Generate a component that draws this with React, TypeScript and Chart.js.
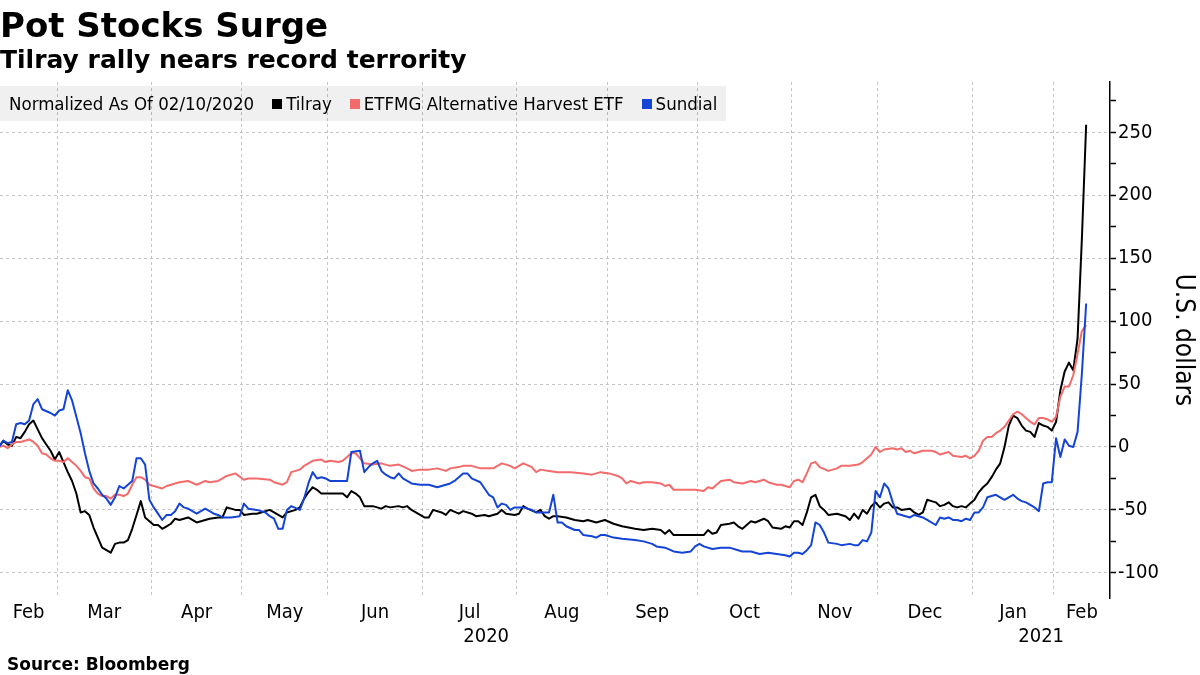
import React, { useEffect, useRef } from 'react';
import { Chart, registerables } from 'chart.js';

Chart.register(...registerables);

const COND = '"DejaVu Sans Condensed", "DejaVu Sans", sans-serif';
const BOLD = '"DejaVu Sans", sans-serif';
const GRID = '#c4c4c4';

// ---- texts ----
const titleText = 'Pot Stocks Surge';
const subtitleText = 'Tilray rally nears record terrority';
const legendNote = 'Normalized As Of 02/10/2020';
const sourceText = 'Source: Bloomberg';
const yAxisTitle = 'U.S. dollars';

// ---- series (x = trading-day index from 02/10/2020, y = normalized change) ----
const seriesNames = ['Tilray', 'ETFMG Alternative Harvest ETF', 'Sundial'];
const seriesColors = ['#000000', '#f36b6b', '#1444d6'];

const tilray: [number, number][] = [
  [0,0],[1,5],[2,2],[3,1],[4,8],[5,7],[6,12],[7,18],[8,21],[9,14],[10,7],[11,2],[12,-3],[13,-10],[14,-4],[15,-12],[16,-20],[17,-27],[18,-37],[19,-52],[20,-51],[21,-54],[22,-64],[23,-72],[24,-80],[25,-82],[26,-84],[27,-77],[28,-76],[29,-76],[30,-74],[31,-65],[32,-54],[33,-43],[34,-56],[35,-59],[36,-62],[37,-62],[38,-65],[39,-63],[40,-61],[41,-57],[42,-58],[44,-56],[46,-60],[48,-58],[49,-57],[51,-56],[52,-56],[53,-48],[54,-49],[55,-50],[56,-50],[57,-54],[59,-53],[60,-53],[61,-52],[63,-50],[64,-52],[65,-54],[66,-56],[67,-52],[69,-50],[70,-48],[71,-41],[72,-36],[73,-32],[74,-34],[75,-37],[77,-37],[79,-37],[80,-37],[81,-40],[82,-35],[83,-37],[84,-40],[85,-47],[87,-47],[89,-49],[90,-47],[91,-48],[93,-47],[94,-48],[95,-47],[96,-50],[98,-54],[99,-56],[100,-56],[101,-50],[103,-52],[104,-54],[105,-50],[107,-53],[108,-51],[110,-53],[111,-55],[113,-54],[114,-55],[116,-53],[117,-50],[118,-53],[120,-54],[121,-53],[122,-47],[123,-49],[125,-52],[126,-50],[127,-55],[128,-57],[129,-55],[130,-55],[132,-56],[134,-58],[136,-59],[137,-58],[139,-60],[141,-58],[143,-61],[145,-63],[148,-65],[150,-66],[152,-65],[154,-66],[155,-69],[156,-66],[157,-70],[159,-70],[162,-70],[164,-70],[165,-66],[166,-69],[167,-68],[168,-62],[170,-61],[171,-60],[172,-63],[173,-65],[175,-59],[176,-60],[178,-57],[179,-59],[180,-64],[182,-65],[183,-63],[184,-64],[185,-59],[186,-59],[187,-62],[188,-52],[189,-40],[190,-38],[191,-47],[192,-50],[193,-54],[195,-53],[196,-54],[197,-55],[198,-58],[199,-53],[200,-57],[201,-50],[202,-53],[203,-47],[204,-44],[205,-48],[206,-45],[207,-44],[208,-48],[209,-48],[210,-50],[212,-49],[213,-52],[214,-54],[215,-52],[216,-42],[217,-43],[218,-44],[219,-47],[220,-46],[221,-44],[222,-47],[223,-48],[224,-47],[225,-48],[226,-45],[227,-42],[228,-36],[229,-32],[230,-29],[231,-24],[232,-18],[233,-13],[234,0],[235,17],[236,25],[237,23],[238,17],[239,13],[240,12],[241,8],[242,19],[243,17],[244,16],[245,13],[246,20],[247,45],[248,60],[249,67],[250,61],[251,86],[252,165],[253,256]
];

const etfmg: [number, number][] = [
  [0,0],[1,1],[2,-1],[3,2],[4,4],[5,4],[7,6],[8,4],[9,1],[10,-5],[11,-6],[12,-9],[13,-11],[14,-11],[15,-12],[16,-9],[17,-12],[18,-15],[19,-19],[20,-24],[21,-25],[22,-33],[23,-37],[24,-39],[25,-39],[26,-41],[27,-38],[28,-38],[29,-39],[30,-37],[31,-30],[32,-24],[33,-24],[34,-26],[35,-30],[36,-31],[37,-32],[38,-33],[39,-31],[40,-30],[41,-29],[42,-28],[44,-27],[46,-30],[48,-27],[49,-28],[51,-27],[53,-23],[55,-21],[57,-26],[58,-25],[60,-25],[63,-26],[64,-28],[66,-30],[67,-28],[68,-20],[70,-18],[71,-15],[73,-11],[75,-10],[76,-12],[77,-11],[79,-12],[80,-11],[82,-5],[83,-5],[85,-13],[87,-14],[89,-13],[91,-15],[93,-14],[95,-17],[96,-19],[98,-18],[100,-18],[102,-17],[104,-19],[105,-17],[107,-16],[108,-15],[110,-15],[112,-17],[114,-17],[115,-17],[117,-13],[119,-15],[120,-17],[121,-15],[122,-13],[124,-16],[125,-20],[126,-18],[128,-19],[130,-20],[133,-20],[136,-21],[138,-22],[140,-20],[142,-21],[144,-23],[145,-25],[146,-29],[147,-27],[149,-29],[150,-28],[152,-28],[154,-29],[155,-31],[156,-30],[157,-34],[159,-34],[162,-34],[164,-35],[165,-32],[166,-33],[168,-27],[170,-26],[171,-28],[173,-29],[175,-27],[176,-28],[178,-26],[179,-28],[181,-30],[182,-30],[184,-32],[185,-27],[186,-26],[187,-28],[188,-21],[189,-13],[190,-12],[191,-16],[193,-19],[195,-17],[196,-15],[198,-15],[200,-14],[201,-12],[202,-9],[203,-6],[204,0],[205,-4],[206,-2],[208,-1],[209,-2],[210,-1],[211,-4],[212,-3],[213,-5],[215,-3],[217,-3],[218,-4],[219,-6],[221,-4],[222,-7],[224,-8],[225,-7],[226,-9],[227,-7],[228,-3],[229,5],[230,8],[231,8],[232,11],[233,13],[234,16],[235,21],[236,26],[237,28],[238,26],[239,23],[240,20],[241,18],[242,23],[243,23],[244,22],[245,20],[246,24],[247,40],[248,48],[249,48],[250,57],[251,74],[252,92],[253,97]
];

const sundial: [number, number][] = [
  [0,0],[1,5],[2,3],[3,4],[4,18],[5,19],[6,18],[7,21],[8,34],[9,38],[10,30],[12,27],[13,25],[14,29],[15,30],[16,45],[17,37],[18,24],[19,11],[20,-5],[21,-19],[22,-29],[23,-33],[24,-38],[25,-41],[26,-46],[27,-40],[28,-31],[29,-33],[30,-30],[31,-27],[32,-9],[33,-9],[34,-14],[35,-42],[36,-48],[37,-53],[38,-58],[39,-54],[40,-54],[41,-51],[42,-45],[43,-48],[44,-49],[46,-53],[48,-49],[50,-53],[51,-54],[52,-56],[54,-56],[56,-55],[57,-45],[58,-49],[60,-50],[62,-52],[63,-55],[64,-57],[65,-65],[66,-65],[67,-50],[68,-47],[70,-50],[71,-41],[72,-29],[73,-20],[74,-25],[75,-24],[76,-25],[77,-27],[79,-27],[81,-27],[82,-4],[84,-3],[85,-20],[86,-16],[87,-13],[88,-11],[89,-19],[90,-22],[91,-24],[92,-25],[93,-21],[94,-25],[95,-27],[96,-29],[98,-30],[100,-30],[101,-31],[102,-32],[103,-31],[105,-29],[106,-27],[107,-24],[108,-21],[109,-21],[110,-25],[112,-28],[113,-33],[114,-38],[115,-40],[116,-48],[117,-45],[118,-46],[119,-50],[120,-48],[122,-48],[124,-50],[125,-52],[127,-52],[128,-52],[129,-38],[130,-60],[131,-60],[132,-63],[134,-66],[135,-66],[136,-70],[138,-71],[139,-72],[140,-70],[141,-70],[143,-72],[145,-73],[148,-74],[150,-75],[152,-77],[153,-79],[155,-80],[157,-83],[159,-84],[161,-83],[162,-79],[163,-77],[164,-79],[166,-81],[168,-80],[170,-80],[172,-82],[173,-83],[175,-83],[177,-85],[179,-84],[181,-85],[183,-86],[184,-87],[185,-84],[186,-84],[187,-85],[188,-82],[189,-78],[190,-60],[191,-62],[192,-68],[193,-76],[195,-77],[196,-78],[198,-77],[199,-78],[200,-78],[201,-74],[202,-75],[203,-68],[204,-35],[205,-40],[206,-29],[207,-33],[208,-44],[209,-53],[210,-54],[212,-56],[213,-54],[215,-56],[216,-58],[218,-62],[219,-56],[220,-57],[221,-56],[222,-58],[223,-58],[224,-59],[225,-57],[226,-58],[227,-52],[228,-52],[229,-48],[230,-40],[231,-39],[232,-38],[233,-40],[234,-42],[235,-40],[236,-38],[237,-41],[238,-43],[239,-44],[240,-46],[241,-48],[242,-51],[243,-29],[244,-28],[245,-28],[246,7],[247,-8],[248,6],[249,1],[250,0],[251,12],[252,58],[253,114]
];

// ---- axes ----
const monthLabels = ['Feb', 'Mar', 'Apr', 'May', 'Jun', 'Jul', 'Aug', 'Sep', 'Oct', 'Nov', 'Dec', 'Jan', 'Feb'];
const monthFirstDay = [0, 14, 36, 57, 77, 99, 121, 142, 163, 185, 205, 227, 246];
const yearLabels = ['2020', '2021'];
const yearFirstDay = [0, 227];
const yTickValues = [-100, -75, -50, -25, 0, 25, 50, 75, 100, 125, 150, 175, 200, 225, 250, 275];
const yLabelEvery = 50;

const X_MIN = 0.23;
const X_MAX = 258.55;
const Y_MIN = -120;
const Y_MAX = 290;

type XDef = { value: number; label: string | string[]; grid: boolean };

function buildXTicks(): XDef[] {
  const starts = monthFirstDay.map((d, i) => (i === 0 ? X_MIN : d - 0.5));
  const ends = [...starts.slice(1), X_MAX];
  const defs: XDef[] = [];
  starts.forEach((s, i) => {
    if (i > 0) defs.push({ value: s, label: '', grid: true });
    defs.push({ value: (s + ends[i]) / 2, label: monthLabels[i], grid: false });
  });
  yearFirstDay.forEach((d, j) => {
    const s = j === 0 ? X_MIN : d - 0.5;
    const e = j + 1 < yearFirstDay.length ? yearFirstDay[j + 1] - 0.5 : X_MAX;
    defs.push({ value: (s + e) / 2, label: ['', yearLabels[j]], grid: false });
  });
  defs.sort((a, b) => a.value - b.value);
  return defs;
}

export default function App() {
  const ref = useRef<HTMLCanvasElement | null>(null);

  useEffect(() => {
    if (!ref.current) return;
    const xDefs = buildXTicks();
    const chart = new Chart(ref.current, {
      type: 'line',
      data: {
        datasets: [tilray, etfmg, sundial].map((s, k) => ({
          label: seriesNames[k],
          data: s.map(([d, v]) => ({ x: d, y: v })),
          borderColor: seriesColors[k],
          backgroundColor: seriesColors[k],
          borderWidth: 2,
          pointRadius: 0,
          tension: 0,
          fill: false,
          borderJoinStyle: 'round',
          order: 3 - k,
        })),
      },
      options: {
        responsive: false,
        animation: false,
        devicePixelRatio: 1,
        events: [],
        layout: { padding: { top: 82, left: 0, right: 0, bottom: 0 } },
        plugins: {
          legend: { display: false },
          tooltip: { enabled: false },
          title: { display: false },
        },
        scales: {
          x: {
            type: 'linear',
            min: X_MIN,
            max: X_MAX,
            afterBuildTicks: (scale: any) => {
              scale.ticks = xDefs.map((d) => ({ value: d.value }));
            },
            afterFit: (scale: any) => {
              scale.height = 77;
            },
            ticks: {
              autoSkip: false,
              maxRotation: 0,
              minRotation: 0,
              padding: 3,
              color: '#000',
              font: { family: COND, size: 20 },
              callback: (_v: any, i: number) => (xDefs[i] ? xDefs[i].label : ''),
            },
            grid: {
              drawTicks: false,
              lineWidth: 1,
              color: (ctx: any) => (xDefs[ctx.index] && xDefs[ctx.index].grid ? GRID : 'rgba(0,0,0,0)'),
            },
            border: { display: false, dash: [3, 3] },
          },
          y: {
            type: 'linear',
            position: 'right',
            min: Y_MIN,
            max: Y_MAX,
            afterBuildTicks: (scale: any) => {
              scale.ticks = yTickValues.map((v) => ({ value: v }));
            },
            afterFit: (scale: any) => {
              scale.width = 90;
            },
            ticks: {
              color: '#000',
              padding: 2,
              font: { family: COND, size: 20 },
              callback: (v: any) => (Number(v) % yLabelEvery === 0 ? String(v) : ''),
            },
            grid: {
              lineWidth: 1,
              color: (ctx: any) => (ctx.tick && ctx.tick.value % yLabelEvery === 0 ? GRID : 'rgba(0,0,0,0)'),
              tickColor: '#000',
              tickLength: 6,
              tickWidth: 1.5,
            },
            border: { display: true, color: '#000', width: 1.5, dash: [3, 3] },
            title: {
              display: true,
              text: yAxisTitle,
              color: '#000',
              font: { family: COND, size: 26 },
              padding: { top: 2, bottom: 0 },
            },
          },
        },
      } as any,
    });
    return () => chart.destroy();
  }, []);

  return (
    <div style={{ position: 'absolute', left: 0, top: 0, width: 1200, height: 675, background: '#fff', overflow: 'hidden' }}>
      <canvas ref={ref} width={1200} height={675} style={{ position: 'absolute', left: 0, top: 0, width: 1200, height: 675 }} />
      <div style={{ position: 'absolute', left: 0, top: 8, font: `bold 34px/34px ${BOLD}`, color: '#000', whiteSpace: 'nowrap' }}>{titleText}</div>
      <div style={{ position: 'absolute', left: 0, top: 47, font: `bold 25px/25px ${BOLD}`, color: '#000', whiteSpace: 'nowrap' }}>{subtitleText}</div>
      <div
        style={{
          position: 'absolute', left: 0, top: 86, height: 35, display: 'flex', alignItems: 'center',
          paddingLeft: 9, paddingRight: 9, background: 'rgba(0,0,0,0.06)',
          font: `18.5px/18px ${COND}`, color: '#000', whiteSpace: 'nowrap',
        }}
      >
        <span>{legendNote}</span>
        {seriesNames.map((n, k) => (
          <React.Fragment key={n}>
            <span style={{ display: 'inline-block', width: 10, height: 10, background: seriesColors[k], marginLeft: 18, marginRight: 4 }} />
            <span>{n}</span>
          </React.Fragment>
        ))}
      </div>
      <div style={{ position: 'absolute', left: 7, top: 656, font: `bold 17px/17px ${BOLD}`, color: '#000', whiteSpace: 'nowrap' }}>{sourceText}</div>
    </div>
  );
}
